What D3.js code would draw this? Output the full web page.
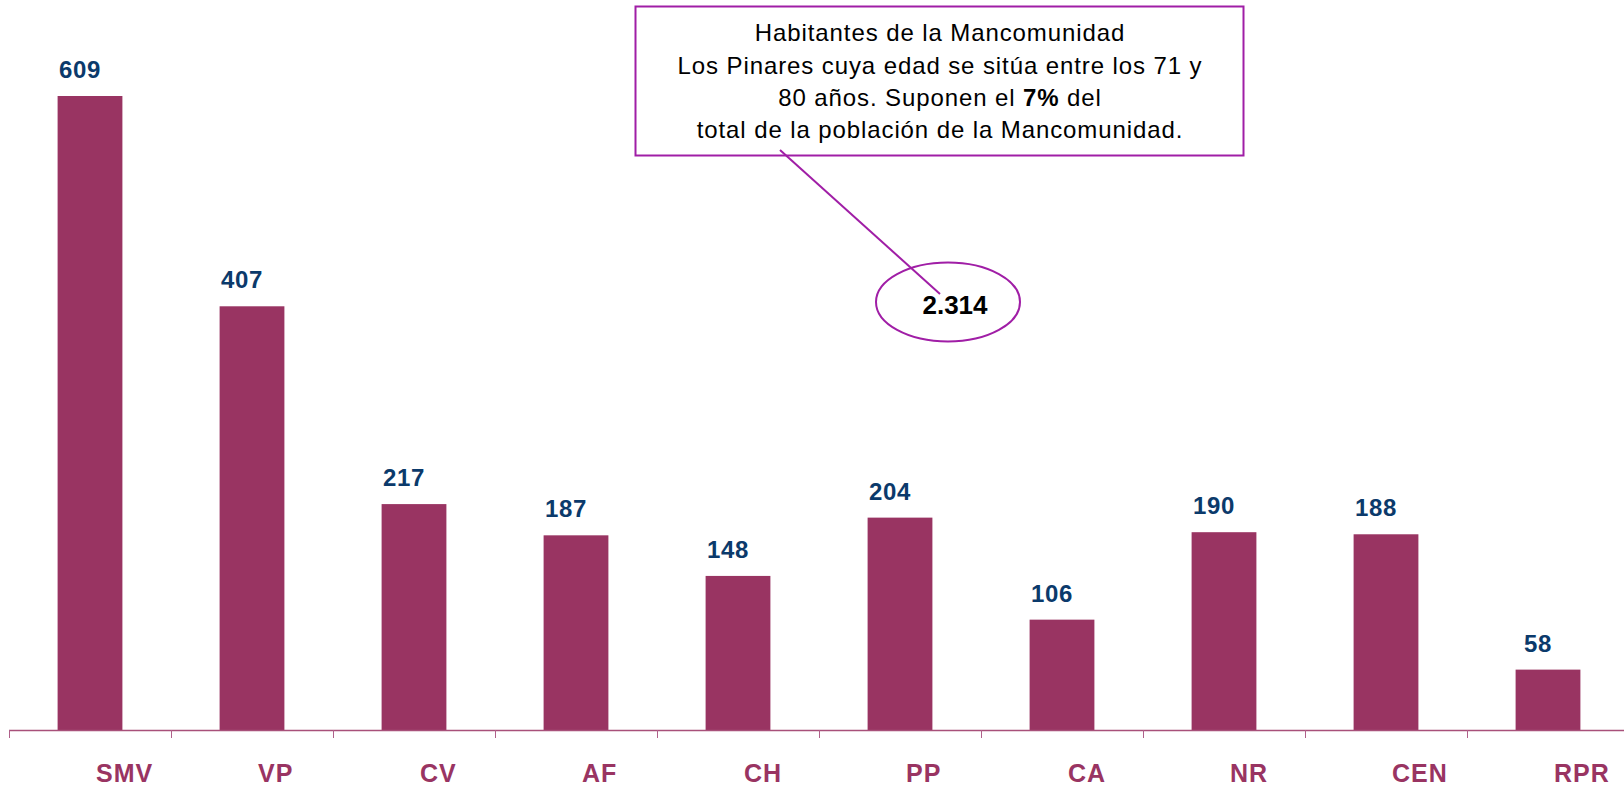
<!DOCTYPE html>
<html>
<head>
<meta charset="utf-8">
<script src="https://cdn.jsdelivr.net/npm/d3@7"></script>
<style>
  html, body { margin: 0; padding: 0; background: #ffffff; }
  svg { display: block; }
</style>
</head>
<body>
<svg id="chart" width="1624" height="786"></svg>
<script>
// ---- data ----
const categories = ["SMV", "VP", "CV", "AF", "CH", "PP", "CA", "NR", "CEN", "RPR"];
const values = [609, 407, 217, 187, 148, 204, 106, 190, 188, 58];
const noteLines = [
  [{t: "Habitantes de la Mancomunidad", b: false}],
  [{t: "Los Pinares cuya edad se sitúa entre los 71 y", b: false}],
  [{t: "80 años. Suponen el ", b: false}, {t: "7%", b: true}, {t: " del", b: false}],
  [{t: "total de la población de la Mancomunidad.", b: false}]
];
const totalLabel = "2.314";

// ---- styles ----
const barColor = "#993462";
const valueColor = "#0b3a6b";
const noteColor = "#a01ea6";
const font = "'Liberation Sans', Arial, sans-serif";

const svg = d3.select("#chart");
const W = 1624, H = 786;
const baseY = 730;

const x = d3.scaleBand().domain(categories).range([9, 1629])
  .paddingInner(0.6).paddingOuter(0.3);
const step = x.step();
const y = d3.scaleLinear().domain([0, d3.max(values)]).range([baseY, 96]);

const data = categories.map((c, i) => ({c, v: values[i]}));

// bars
svg.append("g").selectAll("rect").data(data).join("rect")
  .attr("x", d => x(d.c))
  .attr("y", d => y(d.v))
  .attr("width", x.bandwidth())
  .attr("height", d => baseY - y(d.v))
  .attr("fill", barColor);

// axis line
svg.append("line")
  .attr("x1", 9).attr("x2", W).attr("y1", baseY + 0.5).attr("y2", baseY + 0.5)
  .attr("stroke", "#a8507a").attr("stroke-width", 1.5);

// ticks at band boundaries
const tickXs = categories.map(c => x(c) - step * x.paddingOuter());
tickXs.push(tickXs[tickXs.length - 1] + step);
svg.append("g").selectAll("line").data(tickXs).join("line")
  .attr("x1", d => d + 0.5).attr("x2", d => d + 0.5)
  .attr("y1", baseY).attr("y2", baseY + 8)
  .attr("stroke", "#b0608a").attr("stroke-width", 1);

// category labels
svg.append("g").selectAll("text").data(data).join("text")
  .attr("x", d => x(d.c) + x.bandwidth() / 2 + 6)
  .attr("y", 782)
  .attr("text-anchor", "start")
  .attr("font-family", font)
  .attr("font-weight", "bold")
  .attr("font-size", 25)
  .attr("letter-spacing", "1px")
  .attr("fill", barColor)
  .text(d => d.c);

// value labels
svg.append("g").selectAll("text").data(data).join("text")
  .attr("x", d => x(d.c) + x.bandwidth() / 2 - 10)
  .attr("y", d => y(d.v) - 18)
  .attr("text-anchor", "middle")
  .attr("font-family", font)
  .attr("font-weight", "bold")
  .attr("font-size", 24)
  .attr("letter-spacing", "0.7px")
  .attr("fill", valueColor)
  .text(d => d.v);

// annotation box
const note = svg.append("g");
note.append("rect")
  .attr("x", 635.5).attr("y", 6.5).attr("width", 608).attr("height", 149)
  .attr("fill", "#fff").attr("stroke", noteColor).attr("stroke-width", 2);
const baselines = [41, 73.5, 106, 138];
noteLines.forEach((line, i) => {
  const t = note.append("text")
    .attr("x", 940).attr("y", baselines[i])
    .attr("text-anchor", "middle")
    .attr("font-family", font)
    .attr("font-size", 24)
    .attr("letter-spacing", "0.9px")
    .attr("fill", "#000");
  line.forEach(seg => {
    t.append("tspan").attr("font-weight", seg.b ? "bold" : "normal").text(seg.t);
  });
});

// leader line
note.append("line")
  .attr("x1", 780).attr("y1", 150).attr("x2", 940).attr("y2", 294)
  .attr("stroke", noteColor).attr("stroke-width", 2);

// ellipse
note.append("ellipse")
  .attr("cx", 948).attr("cy", 302).attr("rx", 72).attr("ry", 39.5)
  .attr("fill", "none").attr("stroke", noteColor).attr("stroke-width", 2);
note.append("text")
  .attr("x", 955).attr("y", 314)
  .attr("text-anchor", "middle")
  .attr("font-family", font)
  .attr("font-weight", "bold")
  .attr("font-size", 26)
  .attr("fill", "#000")
  .text(totalLabel);
</script>
</body>
</html>
